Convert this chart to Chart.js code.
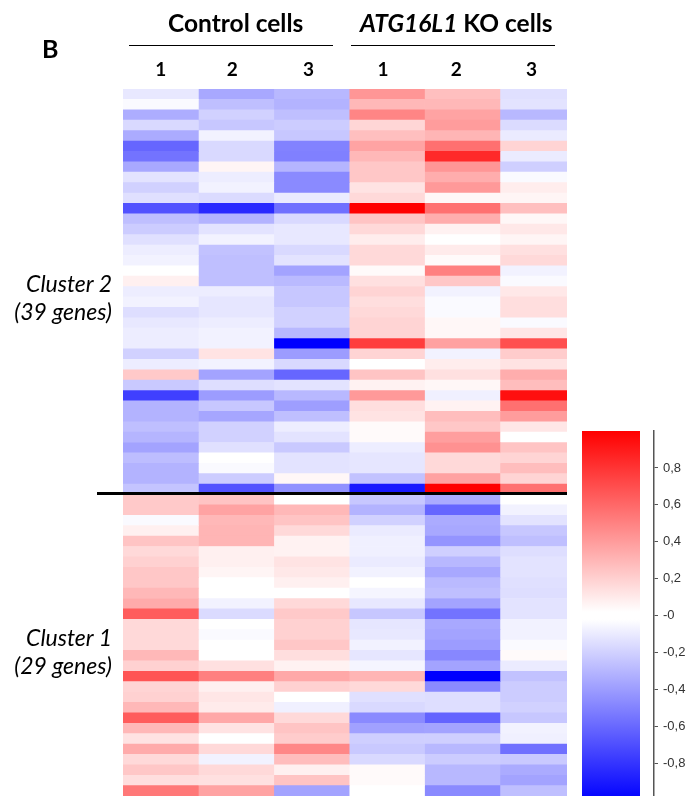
<!DOCTYPE html>
<html>
<head>
<meta charset="utf-8">
<title>Heatmap</title>
<script src="https://cdn.jsdelivr.net/npm/chart.js@4"></script>
<style>
  html, body { margin: 0; padding: 0; background: #fff; overflow: hidden; }
  #page { position: relative; width: 690px; height: 796px; font-family: Lato, sans-serif; color: #000; }
  canvas { position: absolute; }
  .label { position: absolute; white-space: nowrap; }
  .head { font-weight: 700; font-size: 24.5px; line-height: 24px; top: 11px; }
  .cluster { font-style: italic; font-size: 23px; line-height: 28px; width: 112px; left: 0; text-align: right; }
  .rule { position: absolute; background: #000; }
</style>
</head>
<body>
<div id="page">
  <canvas id="heat" width="690" height="796" style="left:0;top:0"></canvas>
  <canvas id="colorbar" width="122" height="371" style="left:568px;top:425px"></canvas>
  <div class="label" style="left:42px;top:33px;font-weight:700;font-size:25px;line-height:30px">B</div>
  <div class="label head" style="left:168px">Control cells</div>
  <div class="label head" style="left:360px"><i>ATG16L1</i> KO cells</div>
  <div class="rule" style="left:129px;top:45px;width:204px;height:1px"></div>
  <div class="rule" style="left:351px;top:45px;width:204px;height:1px"></div>
  <div class="label cluster" style="top:269px">Cluster 2<br>(39 genes)</div>
  <div class="label cluster" style="top:623px">Cluster 1<br>(29 genes)</div>
  <div class="rule" style="left:97px;top:492px;width:470px;height:3px"></div>
</div>
<script>
// values, top row first. 39 genes of cluster 2, then 29 of cluster 1
const control1 = [-.09,-.02,-.32,-.15,-.33,-.6,-.55,-.34,-.11,-.18,-.12,-.68,-.25,-.2,-.12,-.07,-.05,0,.06,-.07,
  -.05,-.13,-.09,-.07,-.07,-.18,-.07,.21,-.21,-.75,-.3,-.3,-.25,-.29,-.36,-.26,-.3,-.3,-.23,
  .21,.21,-.02,.06,.23,.15,.18,.22,.22,.28,.33,.64,.15,.15,.15,.28,.18,.67,.17,.18,.28,.64,.28,.11,.33,.15,.22,.13,.53];
const control2 = [-.34,-.25,-.18,-.22,-.05,-.15,-.15,.04,-.07,-.05,-.14,-.84,-.3,-.11,-.05,-.24,-.25,-.25,-.25,-.07,
  -.1,-.1,-.07,-.05,-.05,.11,-.05,-.36,-.13,-.39,-.22,-.35,-.18,-.18,-.12,0,-.02,-.2,-.68,
  .23,.36,.28,.29,.29,.06,.06,.04,0,0,-.05,-.14,0,-.02,0,0,.12,.5,.06,.1,.08,.34,.11,0,.15,-.05,.15,.12,.36];
const control3 = [-.28,-.3,-.25,-.2,-.22,-.49,-.5,-.29,-.46,-.46,-.08,-.56,-.15,-.09,-.09,-.15,-.11,-.36,-.27,-.22,
  -.22,-.18,-.18,-.28,-1,-.39,-.15,-.6,-.11,-.28,-.38,-.25,-.07,-.11,-.21,-.11,-.11,.03,-.43,
  0,.28,.23,.15,.05,.05,.11,.09,.06,0,.15,.21,.18,.18,.22,.13,.05,.34,.18,0,-.06,.15,.23,.2,.47,.26,.06,.23,-.36];
const ko1 = [.41,.28,.48,.16,.25,.36,.28,.22,.22,.11,.15,1,.23,.15,.07,.15,.15,.02,.12,.17,
  .13,.15,.17,.17,.76,.17,0,.23,.05,.4,.13,.11,.02,.02,-.07,-.1,-.1,-.24,-.9,
  -.22,-.3,-.18,-.08,-.06,-.06,-.08,-.05,0,-.04,-.09,-.22,-.1,-.09,-.05,-.1,-.04,.29,.15,-.12,-.15,-.46,-.37,-.19,-.21,-.15,.02,.02,0];
const ko2 = [.25,.28,.36,.39,.29,.56,.84,.41,.32,.4,.03,.56,.32,.05,0,.08,.02,.5,.22,-.05,
  -.02,-.02,.03,.03,.37,-.05,.07,.12,.03,-.06,.05,.26,.22,.38,.43,.15,.15,.37,1,
  -.33,-.6,-.33,-.34,-.42,-.19,-.28,-.34,-.27,-.25,-.36,-.55,-.34,-.36,-.39,-.47,-.36,-1,-.46,-.13,-.13,-.61,-.36,-.19,-.28,-.2,-.28,-.28,-.46];
const ko3 = [-.12,-.11,-.28,-.14,-.08,.17,-.08,-.19,-.02,.07,.04,.25,.03,.09,.04,.12,.15,-.05,-.02,.09,
  .13,.13,-.02,.1,.69,.2,.11,.32,.26,.94,.56,.39,.1,0,.23,.17,.26,.17,.56,
  0,-.05,-.11,-.22,-.25,-.13,-.11,-.11,-.12,-.13,-.11,-.11,-.05,-.05,-.02,.02,-.08,-.24,-.2,-.2,-.18,-.22,-.05,-.06,-.56,-.21,-.33,-.36,-.25];

const columnLabels = ['1', '2', '3', '1', '2', '3'];
const colorbarTicks = [.8, .6, .4, .2, 0, -.2, -.4, -.6, -.8];
const colorbarLabels = ['0,8', '0,6', '0,4', '0,2', '-0', '-0,2', '-0,4', '-0,6', '-0,8'];

const columns = [control1, control2, control3, ko1, ko2, ko3];
const rowLabels = control1.map((v, i) => i + 1);

// blue - white - red
function valueColor(v) {
  const c = Math.round(255 * (1 - Math.min(Math.abs(v), 1)));
  return v >= 0 ? `rgb(255,${c},${c})` : `rgb(${c},${c},255)`;
}

// heatmap: one floating bar per cell, x in column units
new Chart(document.getElementById('heat'), {
  type: 'bar',
  data: {
    labels: rowLabels,
    datasets: columns.map((col, c) => ({
      data: col.map(() => [c, c + 1]),
      grouped: false,
      barPercentage: 1,
      categoryPercentage: 1,
      borderWidth: 0,
      backgroundColor: ctx => valueColor(col[ctx.dataIndex])
    }))
  },
  options: {
    indexAxis: 'y',
    responsive: false,
    animation: false,
    layout: { padding: { left: 123, right: 123, top: 55, bottom: 0 } },
    plugins: { legend: { display: false }, tooltip: { enabled: false } },
    scales: {
      y: { display: false },
      x: {
        position: 'top',
        min: 0,
        max: 5.89, // the last column is a bit narrower in the picture
        grid: { display: false, drawTicks: false },
        border: { display: false },
        afterBuildTicks: scale => {
          scale.ticks = [0.5, 1.45, 2.46, 3.45, 4.42, 5.42].map(value => ({ value }));
        },
        afterFit: scale => { scale.height = 34; },
        ticks: {
          autoSkip: false,
          maxRotation: 0,
          padding: 8,
          color: '#000',
          font: { family: 'Lato', weight: 'bold', size: 19 },
          callback: (value, index) => columnLabels[index]
        }
      }
    }
  }
});

// colour scale
new Chart(document.getElementById('colorbar'), {
  type: 'bar',
  data: {
    labels: ['scale'],
    datasets: [{
      data: [[-1, 1]],
      barPercentage: 58 / 86,
      categoryPercentage: 1,
      borderWidth: 0,
      backgroundColor: ctx => {
        const { chart } = ctx;
        if (!chart.chartArea) return '#fff';
        const top = chart.scales.y.getPixelForValue(1);
        const bottom = chart.scales.y.getPixelForValue(-1);
        if (!isFinite(top) || !isFinite(bottom)) return '#fff';
        const g = chart.ctx.createLinearGradient(0, top, 0, bottom);
        g.addColorStop(0, valueColor(1));
        g.addColorStop(0.49, valueColor(0));
        g.addColorStop(0.51, valueColor(0));
        g.addColorStop(1, valueColor(-1));
        return g;
      }
    }]
  },
  options: {
    responsive: false,
    animation: false,
    layout: { autoPadding: false, padding: { top: 6, bottom: 0, left: 0, right: 0 } },
    plugins: { legend: { display: false }, tooltip: { enabled: false } },
    scales: {
      x: { display: false },
      y: {
        position: 'right',
        min: -0.976,
        max: 1,
        grid: { drawOnChartArea: false, color: '#555', tickLength: 4 },
        border: { color: '#555', width: 1.5 },
        afterBuildTicks: scale => {
          scale.ticks = colorbarTicks.map(value => ({ value }));
        },
        afterFit: scale => {
          scale.width = 36;
          scale.paddingTop = 0;
          scale.paddingBottom = 0;
        },
        ticks: {
          autoSkip: false,
          padding: 5,
          color: '#333',
          font: { family: 'Liberation Sans', size: 13 },
          callback: (value, index) => colorbarLabels[index]
        }
      }
    }
  }
});
</script>
</body>
</html>
